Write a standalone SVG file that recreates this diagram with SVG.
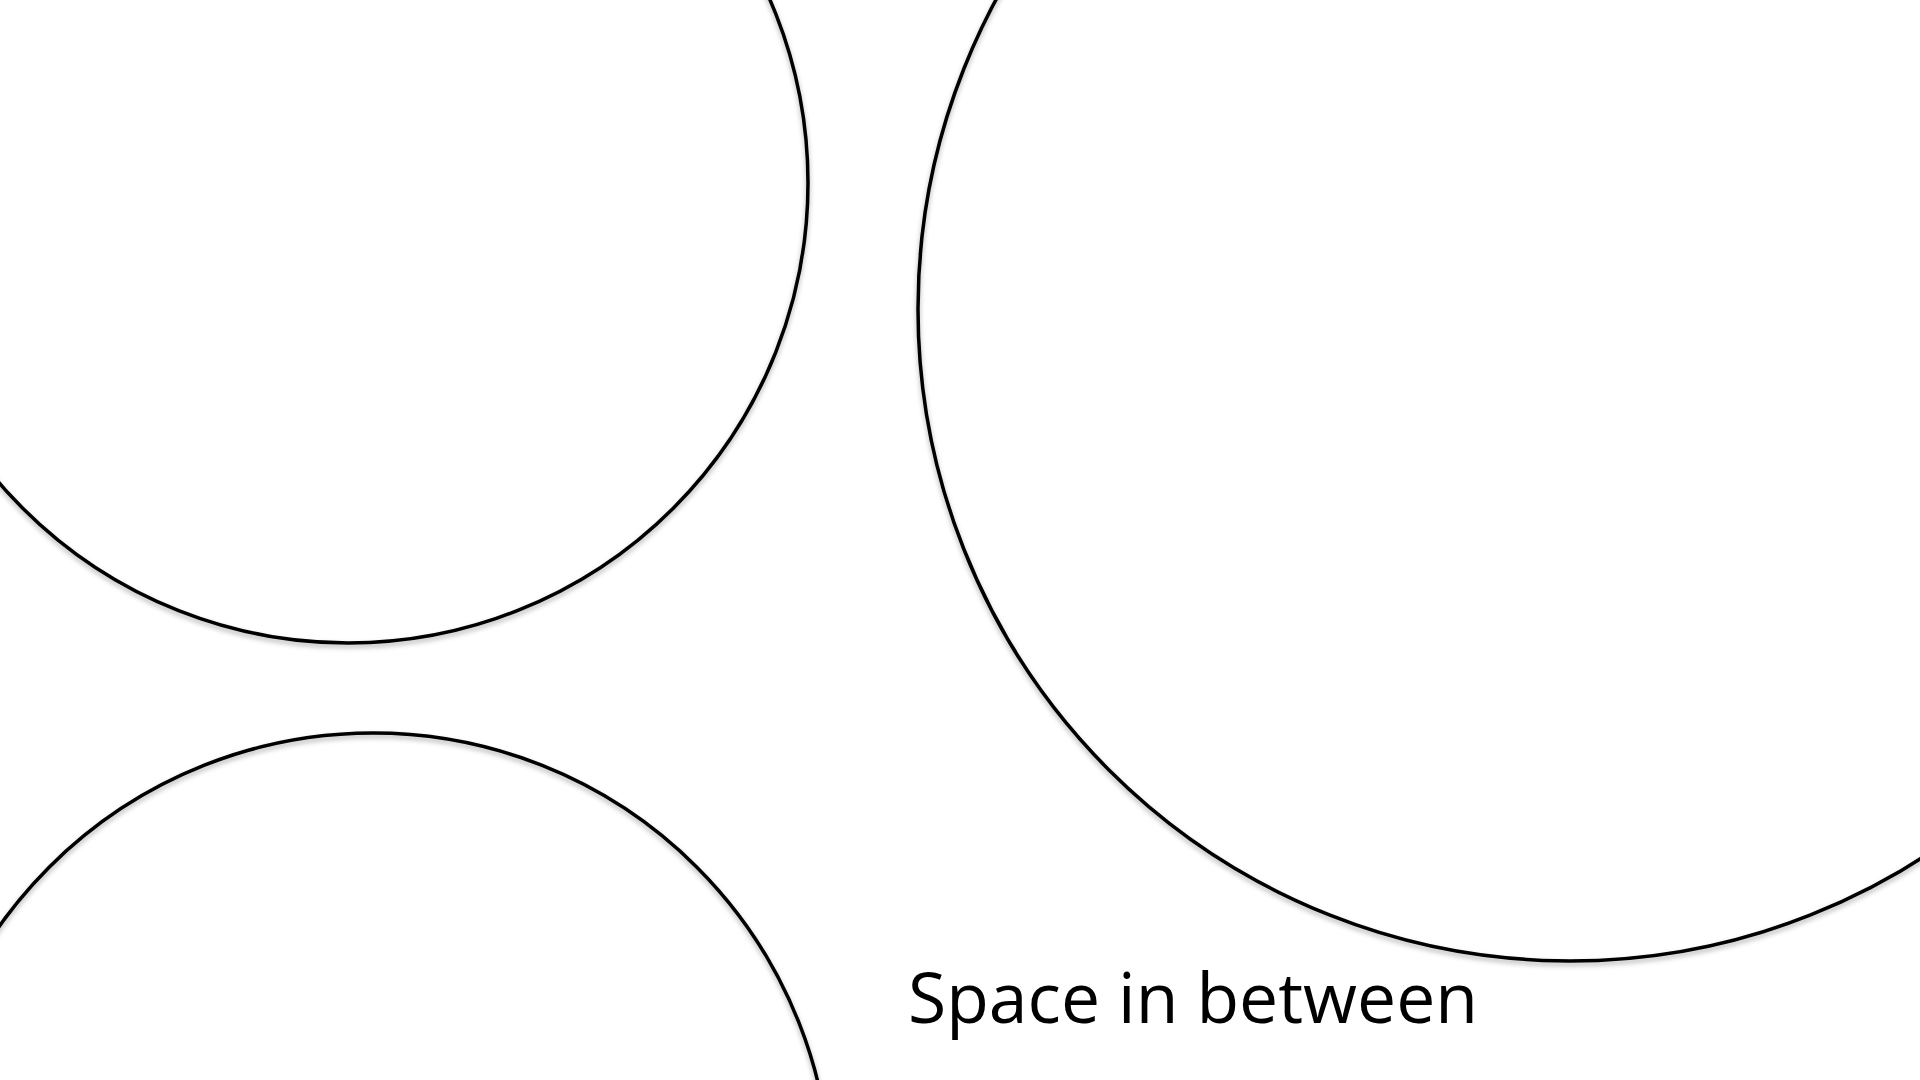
<svg xmlns="http://www.w3.org/2000/svg" width="1920" height="1080" viewBox="0 0 1920 1080">
<defs>
<filter id="sh" x="-10%" y="-10%" width="120%" height="120%">
<feDropShadow dx="0" dy="3" stdDeviation="2.5" flood-color="#000" flood-opacity="0.3"/>
</filter>
<style>
.c{fill:none;stroke:#000;stroke-width:3.5;filter:url(#sh)}
.t{font-family:"Open Sans","Liberation Sans",sans-serif;font-size:69px;fill:#000}
</style>
</defs>
<rect width="1920" height="1080" fill="#fff"/>
<g id="circle-top-left"><circle class="c" cx="348" cy="183" r="460"/></g>
<g id="circle-right"><circle class="c" cx="1570" cy="309" r="652"/></g>
<g id="circle-bottom-left"><circle class="c" cx="373" cy="1191" r="458"/></g>
<g id="connectors"/>
<text class="t" x="908" y="1023" textLength="570" lengthAdjust="spacingAndGlyphs">Space in between</text>
</svg>
